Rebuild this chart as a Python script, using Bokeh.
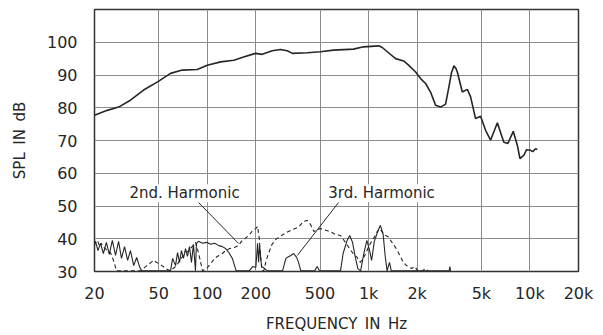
from bokeh.plotting import figure
from bokeh.models import Range1d, FixedTicker, Label
from bokeh.embed import file_html
from bokeh.resources import INLINE

# ---- data ----
x_ticks = [20, 50, 100, 200, 500, 1000, 2000, 5000, 10000, 20000]
x_tick_labels = ["20", "50", "100", "200", "500", "1k", "2k", "5k", "10k", "20k"]
y_ticks = [30, 40, 50, 60, 70, 80, 90, 100]

# on-axis SPL response (solid)
main_freq = [20, 24, 28.2, 33.4, 40.3, 49.2, 59.2, 70, 86.7, 100, 121, 146, 168, 199, 219,
             253, 284, 313, 337, 417, 503, 607, 807, 931, 1153, 1216, 1306, 1470, 1648,
             1770, 1956, 2100, 2256, 2420, 2600, 2794, 3000, 3146, 3260, 3380, 3480, 3548,
             3810, 4092, 4288, 4602, 4944, 5310, 5702, 6282, 6890, 7300, 7880, 8360, 8670,
             9180, 9530, 10100, 10400, 10840, 11100]
main_db = [77.7, 79.2, 80.2, 82.3, 85.4, 87.9, 90.5, 91.5, 91.7, 93.0, 94.0, 94.5, 95.5,
           96.6, 96.3, 97.4, 97.8, 97.4, 96.6, 96.8, 97.1, 97.6, 97.9, 98.6, 98.9, 98.4,
           97.1, 95.0, 94.3, 93.0, 90.9, 88.9, 87.4, 84.8, 80.8, 80.2, 81.1, 86.4, 90.6,
           92.8, 92.0, 90.9, 84.8, 85.6, 83.3, 76.7, 77.4, 73.1, 70.1, 75.4, 69.5, 69.1,
           72.8, 68.5, 64.5, 65.5, 67.2, 67.0, 66.6, 67.5, 67.2]

# 3rd harmonic (solid)
h3_freq = [20, 20.3, 21.0, 21.8, 22.7, 23.7, 24.7, 25.8, 27.0, 28.2, 29.4, 30.7, 32.1,
           33.4, 35.0, 36.5, 38.2, 39.3,
           59.2, 61.0, 63.6, 65.4, 67.3, 69.2, 71.2, 73.3, 75.4, 77.6, 79.8, 82.1, 84.5,
           85.7, 88.2, 93.5, 99.2, 105, 111, 118, 124, 130, 136, 143, 147, 151,
           182, 191, 200, 205, 208, 211, 217, 227, 236,
           293, 307, 320, 330, 343, 358, 368, 380, 463, 480, 496,
           670, 695, 736, 764, 795, 830, 858, 892, 937, 975, 1008, 1044, 1085, 1140,
           1183, 1231, 1266, 1302, 1347, 1382, 3155, 3190, 3220]
h3_db = [38.6, 39.2, 36.4, 38.6, 35.5, 38.9, 35.2, 39.5, 34.9, 39.2, 34.0, 37.6, 33.4,
         36.4, 31.8, 34.3, 31.2, 30.2,
         30.2, 34.0, 31.8, 35.8, 32.8, 36.4, 34.0, 37.0, 34.6, 37.6, 32.8, 38.3, 30.2,
         38.6, 39.2, 38.6, 38.9, 38.3, 38.6, 37.9, 37.6, 37.0, 35.8, 34.0, 32.1, 30.2,
         30.2, 31.5, 31.2, 38.6, 32.8, 37.9, 31.5, 30.9, 30.2,
         30.2, 34.0, 34.6, 34.9, 35.5, 34.3, 32.8, 30.2, 30.2, 31.5, 30.2,
         30.2, 35.5, 39.5, 41.0, 38.9, 34.0, 30.9, 30.2, 35.8, 39.5, 37.0, 33.4, 39.2, 42.2,
         44.1, 41.3, 34.9, 30.2, 32.8, 30.2, 30.2, 31.5, 30.2]

# 2nd harmonic (dashed)
h2_freq = [20, 20.3, 20.9, 21.5, 22.0, 23.0, 24.0, 25.1, 26.2, 27.4,
           38.6, 41.5, 44.9, 46.6, 48.4, 51.3, 55.3, 59.2,
           64.5, 68.7, 72.3, 76.6, 81.6, 84.5, 88.2, 91.0, 93.5,
           99.2, 105, 111, 118, 124, 130, 138, 147, 156, 163, 172, 183, 191, 200, 205, 210,
           214, 219, 224,
           232, 241, 252, 266, 283, 309, 336, 367, 395, 416, 436, 458, 500, 527, 551, 592,
           623, 670,
           711, 755, 801, 849, 887, 926, 967, 1000, 1044, 1091, 1140, 1173, 1208, 1266,
           1320, 1382,
           1443, 1507, 1574, 1644, 1718, 1770, 1846, 1931, 2017, 2150, 2250, 2330]
h2_db = [38.0, 38.9, 39.5, 37.6, 38.6, 37.3, 36.4, 35.8, 33.4, 30.2,
         30.2, 31.5, 32.8, 33.4, 32.8, 32.1, 30.9, 30.2,
         31.8, 34.0, 35.2, 36.4, 37.9, 38.9, 35.8, 32.8, 30.2,
         30.9, 32.4, 34.0, 34.9, 35.5, 36.4, 37.0, 37.3, 37.9, 39.2, 40.1, 41.3, 42.5, 43.1,
         43.8, 40.2, 34.3, 30.2, 30.2,
         33.4, 35.8, 38.3, 39.8, 40.7, 41.9, 42.8, 43.5, 45.3, 45.6, 44.4, 42.2, 43.1, 42.8,
         42.5, 41.9, 41.3, 41.0,
         39.2, 37.3, 35.5, 34.3, 32.8, 34.0, 35.8, 37.6, 39.2, 40.7, 42.5, 43.1, 42.2, 41.0,
         40.7, 39.2,
         37.9, 36.4, 34.6, 32.8, 31.8, 31.5, 30.9, 31.5, 30.2, 30.2, 30.9, 30.2]

INK = "#262626"
FONT = "DejaVu Sans"

p = figure(width=603, height=335, x_axis_type="log",
           x_range=Range1d(20, 20000), y_range=Range1d(30, 110),
           output_backend="svg", toolbar_location=None,
           min_border_left=94, min_border_right=25, min_border_top=9, min_border_bottom=64)

p.background_fill_color = "white"
p.border_fill_color = "white"
p.outline_line_color = "#333333"
p.outline_line_width = 1.5

p.xaxis.ticker = FixedTicker(ticks=x_ticks)
p.xaxis.major_label_overrides = {t: s for t, s in zip(x_ticks, x_tick_labels)}
p.yaxis.ticker = FixedTicker(ticks=y_ticks)
p.xgrid.ticker = FixedTicker(ticks=x_ticks)
p.ygrid.ticker = FixedTicker(ticks=y_ticks + [110])

for g in (p.xgrid, p.ygrid):
    g.grid_line_color = "#8c8c8c"
    g.grid_line_width = 1
    g.grid_line_alpha = 1

for ax in (p.xaxis, p.yaxis):
    ax.axis_line_color = None
    ax.major_tick_line_color = None
    ax.minor_tick_line_color = None
    ax.major_label_text_font = FONT
    ax.major_label_text_font_size = "16px"
    ax.major_label_text_color = INK
    ax.axis_label_text_font = FONT
    ax.axis_label_text_font_size = "15px"
    ax.axis_label_text_font_style = "normal"
    ax.axis_label_text_color = INK

p.xaxis.major_label_standoff = 6
p.yaxis.major_label_standoff = 11
p.xaxis.axis_label = "FREQUENCY\u2002IN\u2002Hz"
p.yaxis.axis_label = "SPL\u2002IN\u2002dB"
p.xaxis.axis_label_standoff = 9
p.yaxis.axis_label_standoff = 15

p.line(main_freq, main_db, line_color=INK, line_width=1.6)
p.line(h3_freq, h3_db, line_color=INK, line_width=1.1)
p.line(h2_freq, h2_db, line_color=INK, line_width=1.1, line_dash="4 3")

# leader lines for the labels
p.segment(x0=[88.2, 652], y0=[51.1, 51.1], x1=[156, 362], y1=[38.6, 34.9],
          line_color=INK, line_width=1)

p.add_layout(Label(x=72.3, y=53.9, text="2nd. Harmonic", text_align="center",
                   text_baseline="middle", text_font=FONT, text_font_size="15px",
                   text_color=INK, background_fill_color="white"))
p.add_layout(Label(x=1203, y=53.9, text="3rd. Harmonic", text_align="center",
                   text_baseline="middle", text_font=FONT, text_font_size="15px",
                   text_color=INK, background_fill_color="white"))

open("out.html", "w").write(file_html(p, INLINE))
